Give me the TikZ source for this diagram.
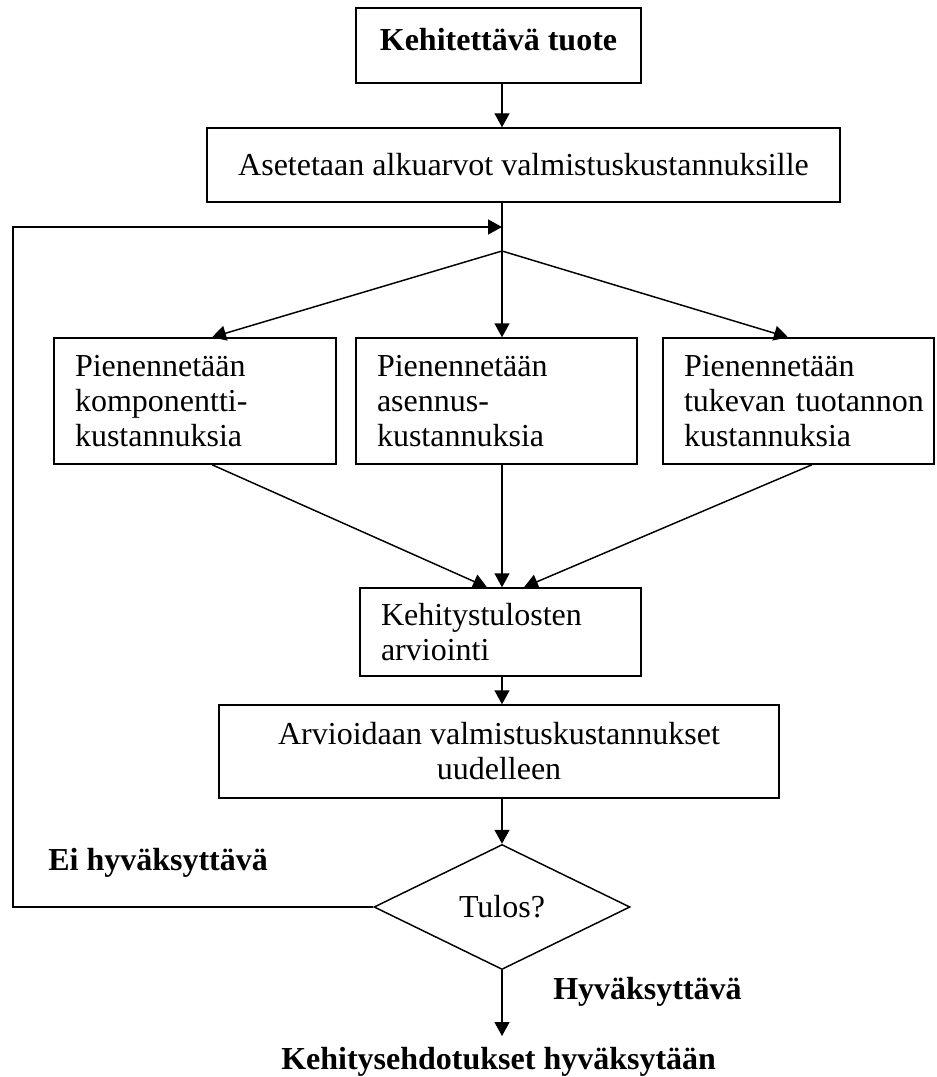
\documentclass[tikz,border=0pt]{standalone}
\usepackage{fontspec}
\setmainfont{Liberation Serif}
\usetikzlibrary{arrows.meta,shapes.geometric}
\begin{document}
\begin{tikzpicture}[x=0.75pt,y=-0.75pt,
  every node/.style={font=\fontsize{24pt}{26.25pt}\selectfont},
  box/.style={draw,line width=1.1pt,inner sep=0pt},
  lbox/.style={box,align=left,inner xsep=15.75pt},
  lab/.style={font=\fontsize{24pt}{26.25pt}\selectfont\bfseries,inner sep=0pt,anchor=base west},
  arr/.style={line width=1.1pt,-{Triangle[width=11.25pt,length=10.5pt]}},
  ln/.style={line width=1.1pt}]
\useasboundingbox (0,0) rectangle (936,1077);
% nodes
\node[box,minimum width=213.75pt,minimum height=56.25pt,text height=17pt,text depth=10pt,font=\fontsize{24pt}{26.25pt}\selectfont\bfseries] (top) at (498.5,45.5) {Kehitettävä tuote};
\node[box,minimum width=474.75pt,minimum height=55.5pt] (init) at (523.5,165) {Asetetaan alkuarvot valmistuskustannuksille};
\node[lbox,text width=180pt,minimum height=94.5pt] (left) at (195,401) {Pienennetään\\komponentti-\\kustannuksia};
\node[lbox,text width=179.25pt,minimum height=94.5pt] (mid) at (496.5,401) {Pienennetään\\asennus-\\kustannuksia};
\node[lbox,text width=171.75pt,minimum height=94.5pt] (right) at (798.5,401) {Pienennetään\\\mbox{tukevan tuotannon}\\kustannuksia};
\node[lbox,text width=179.25pt,minimum height=66pt] (eval) at (500.5,632) {Kehitystulosten\\arviointi};
\node[box,align=center,minimum width=420pt,minimum height=69.75pt] (reest) at (499,751.5) {Arvioidaan valmistuskustannukset\\uudelleen};
\node[draw,line width=1.1pt,diamond,inner sep=0pt,minimum width=192pt,minimum height=93.75pt] (dec) at (502,907) {Tulos?};
\node[lab] (no) at (48,870) {Ei hyväksyttävä};
\node[lab] (yes) at (553,999) {Hyväksyttävä};
\node[lab] (final) at (281,1069) {Kehitysehdotukset hyväksytään};
% coordinates
\coordinate (cx) at (502,0);
\coordinate (fb) at (502,227);
\coordinate (br) at (502,251);
\coordinate (lt) at (212,0);
\coordinate (rt) at (788,0);
\coordinate (lb) at (212,0);
\coordinate (rb) at (812,0);
\coordinate (le) at (487,0);
\coordinate (re) at (524,0);
\coordinate (corner1) at (13,907);
\coordinate (corner2) at (13,227);
\coordinate (endp) at (502,1036);
% connectors
\draw[arr] (top.south -| cx) -- (init.north -| cx);
\draw[ln] (init.south -| cx) -- (br);
\draw[arr] (br) -- (left.north -| lt);
\draw[arr] (br) -- (mid.north -| cx);
\draw[arr] (br) -- (right.north -| rt);
\draw[arr] (left.south -| lb) -- (eval.north -| le);
\draw[arr] (mid.south -| cx) -- (eval.north -| cx);
\draw[arr] (right.south -| rb) -- (eval.north -| re);
\draw[arr] (eval.south -| cx) -- (reest.north -| cx);
\draw[arr] (reest.south -| cx) -- (dec.north);
\draw[arr] (dec.west) -- (corner1) -- (corner2) -- (fb);
\draw[arr] (dec.south) -- (endp);
\end{tikzpicture}
\end{document}
